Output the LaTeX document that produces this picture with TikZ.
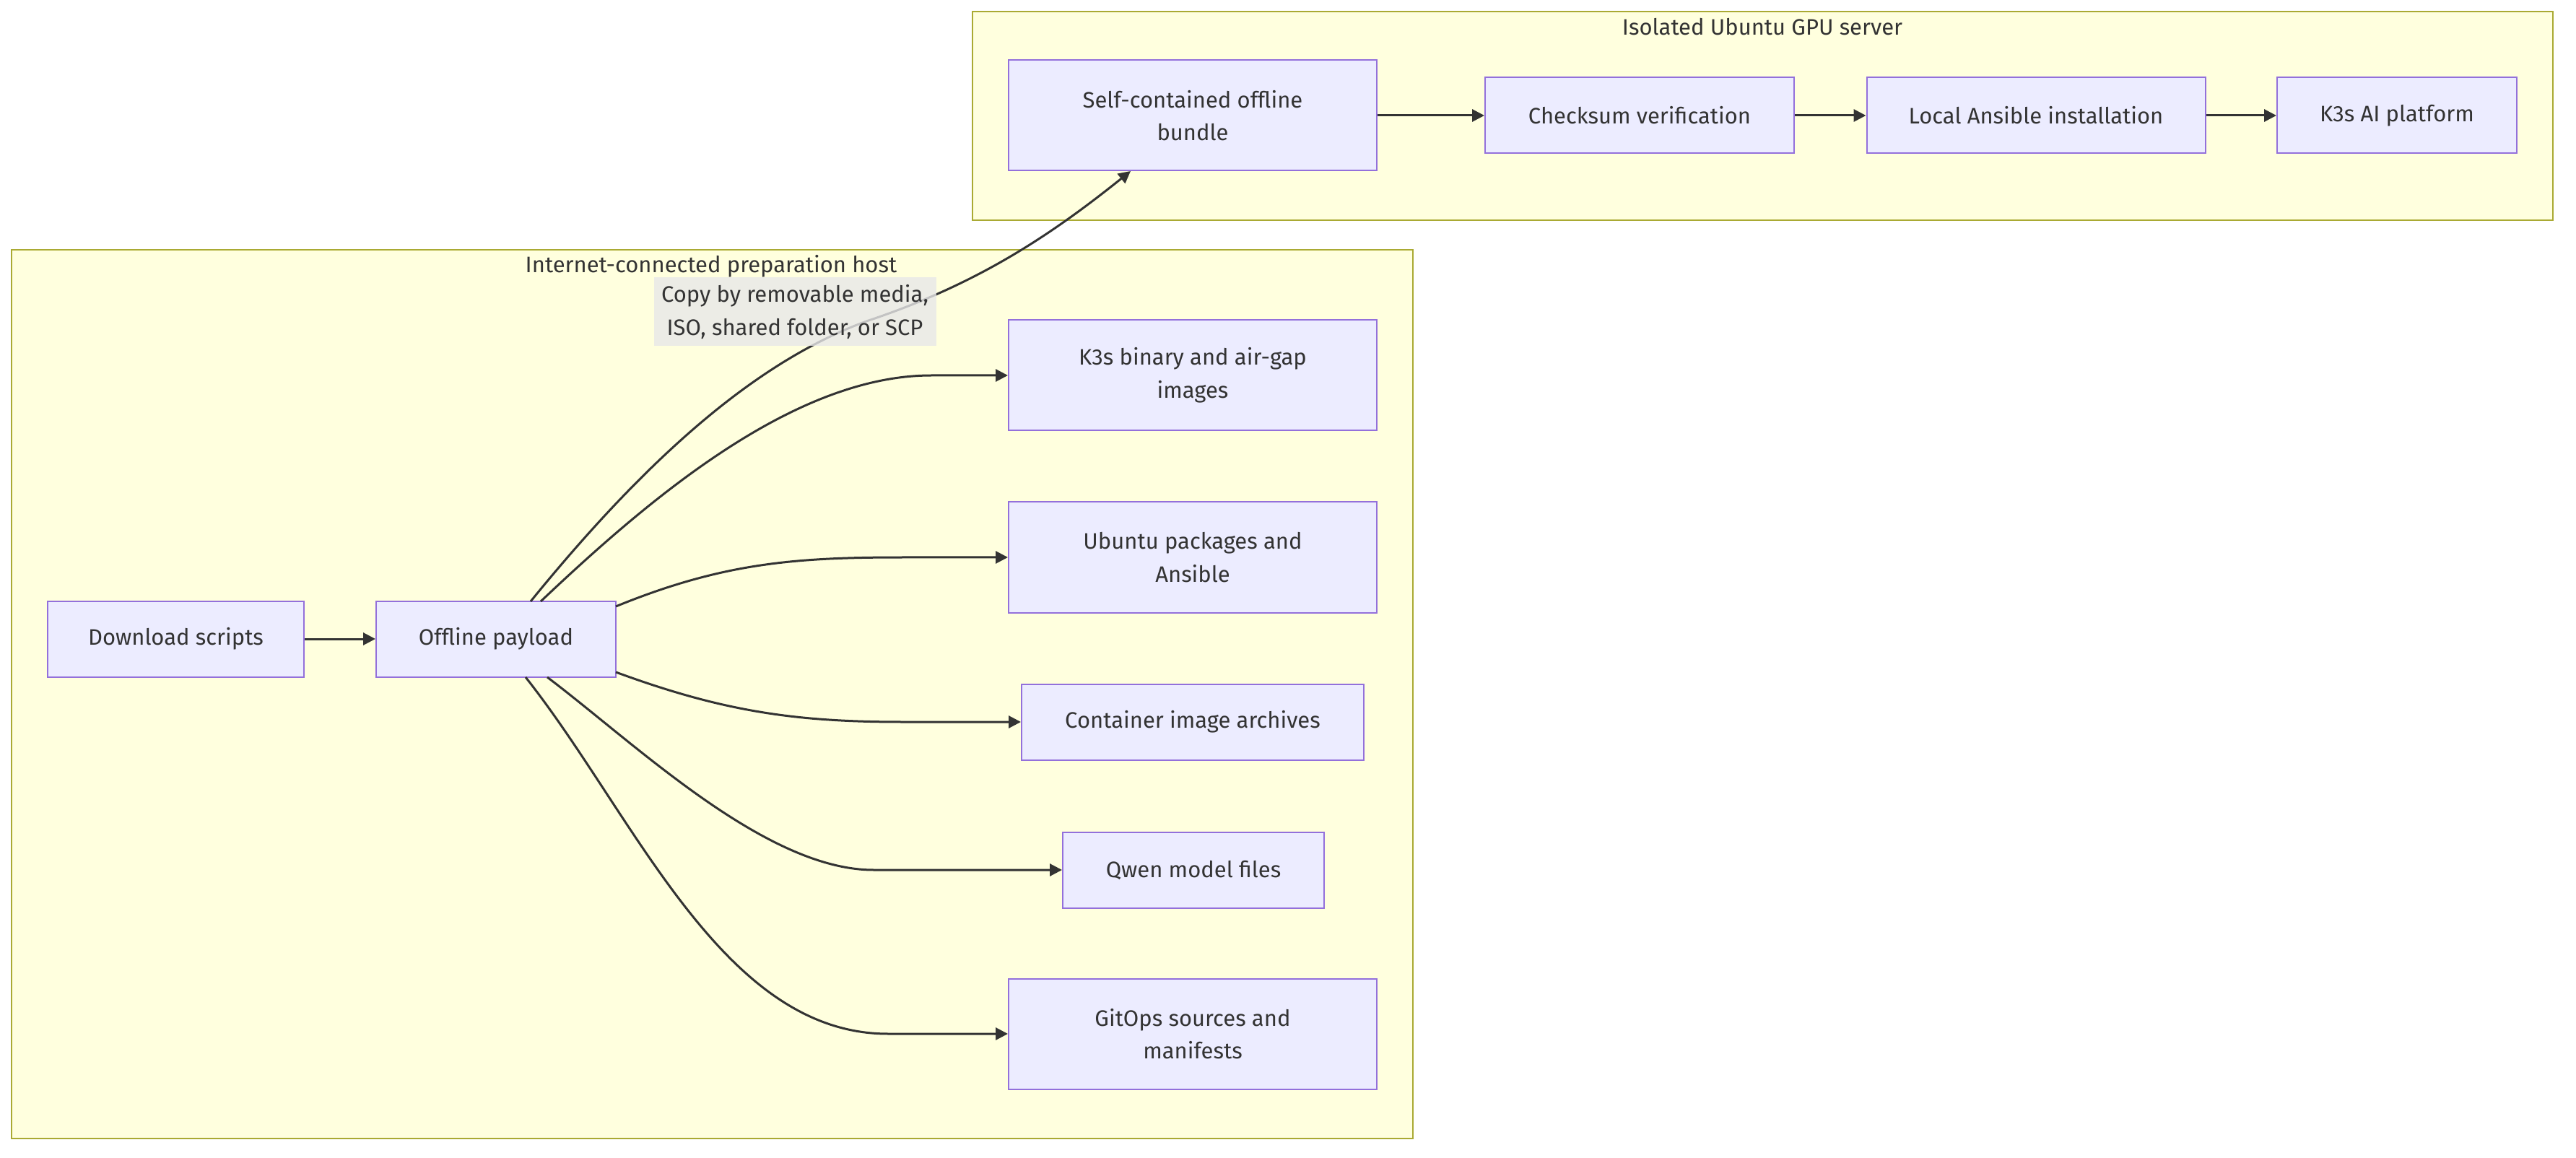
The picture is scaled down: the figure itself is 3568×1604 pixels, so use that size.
\documentclass[tikz,border=0pt]{standalone}
\usepackage{fontspec}
\setmainfont{Fira Sans}
\usetikzlibrary{arrows.meta}
\definecolor{clfill}{HTML}{FFFFDE}
\definecolor{cldraw}{HTML}{AAAA33}
\definecolor{ndfill}{HTML}{ECECFF}
\definecolor{nddraw}{HTML}{9370DB}
\definecolor{txt}{HTML}{333333}
\definecolor{lblbg}{HTML}{E8E8E8}
\tikzset{
  cluster/.style={draw=cldraw, fill=clfill, line width=0.6pt},
  cltitle/.style={text=txt, font=\fontsize{7.75}{9}\selectfont, inner sep=0pt},
  box/.style={draw=nddraw, fill=ndfill, line width=0.5pt, text=txt, align=center,
    font=\fontsize{7.75}{11.4}\selectfont, inner sep=0pt, minimum height=26.25pt},
  tall/.style={minimum height=38.25pt},
  edge/.style={draw=txt, line width=0.75pt, -{Triangle[length=4.2pt,width=4.2pt]}},
  lbl/.style={fill=lblbg, fill opacity=0.8, text opacity=1, text=txt, align=center,
    font=\fontsize{7.75}{11.4}\selectfont, inner sep=0pt, minimum width=97.75pt, minimum height=23.75pt}
}
\begin{document}
\begin{tikzpicture}[x=0.25pt,y=-0.25pt]
\useasboundingbox (0,0) rectangle (3568,1604);
\fill[white] (0,0) rectangle (3568,1604);
% clusters
\draw[cluster] (1347,16) rectangle (3536,305);
\node[cltitle] (t1) at (2441,37) {Isolated Ubuntu GPU server};
\draw[cluster] (16,346) rectangle (1957,1577);
\node[cltitle] (t2) at (985,369) {Internet-connected preparation host};
% nodes top
\node[box, tall, minimum width=127.5pt] (bundle) at (1652,160) {Self-contained offline\\bundle};
\node[box, minimum width=107pt] (check) at (2271,160) {Checksum verification};
\node[box, minimum width=117.25pt] (ansible) at (2820,160) {Local Ansible installation};
\node[box, minimum width=83pt] (k3sai) at (3320,160) {K3s AI platform};
% nodes bottom
\node[box, minimum width=88.75pt] (dl) at (243.5,885) {Download scripts};
\node[box, minimum width=83pt] (payload) at (687,885) {Offline payload};
\node[box, tall, minimum width=127.5pt] (k3sbin) at (1652,520) {K3s binary and air-gap\\images};
\node[box, tall, minimum width=127.5pt] (ubuntu) at (1652,772) {Ubuntu packages and\\Ansible};
\node[box, minimum width=118.5pt] (cont) at (1652,1000) {Container image archives};
\node[box, minimum width=90.5pt] (qwen) at (1653,1205) {Qwen model files};
\node[box, tall, minimum width=127.5pt] (gitops) at (1652,1432) {GitOps sources and\\manifests};
% start coordinates on payload
\coordinate (pTa) at (735,833);
\coordinate (pTb) at (749,833);
\coordinate (pRa) at (853,840);
\coordinate (pRb) at (853,931);
\coordinate (pBa) at (758,938);
\coordinate (pBb) at (728,938);
% edges
\draw[edge] (dl) -- (payload);
\draw[edge] (bundle) -- (check);
\draw[edge] (check) -- (ansible);
\draw[edge] (ansible) -- (k3sai);
\draw[edge] (pTb) .. controls (900,690) and (1100,520) .. (1290,520) -- (k3sbin.west);
\draw[edge] (pRa) .. controls (1000,780) and (1100,772) .. (1250,772) -- (ubuntu.west);
\draw[edge] (pRb) .. controls (1000,985) and (1100,1000) .. (1250,1000) -- (cont.west);
\draw[edge] (pBa) .. controls (880,1030) and (1060,1205) .. (1210,1205) -- (qwen.west);
\draw[edge] (pBb) .. controls (880,1130) and (1000,1432) .. (1230,1432) -- (gitops.west);
\draw[edge] (pTa) .. controls (900,630) and (1050,500) .. (1200,445) .. controls (1350,395) and (1450,330) .. (1566,237);
\node[lbl] (copy) at (1101,432) {Copy by removable media,\\ISO, shared folder, or SCP};
\end{tikzpicture}
\end{document}
